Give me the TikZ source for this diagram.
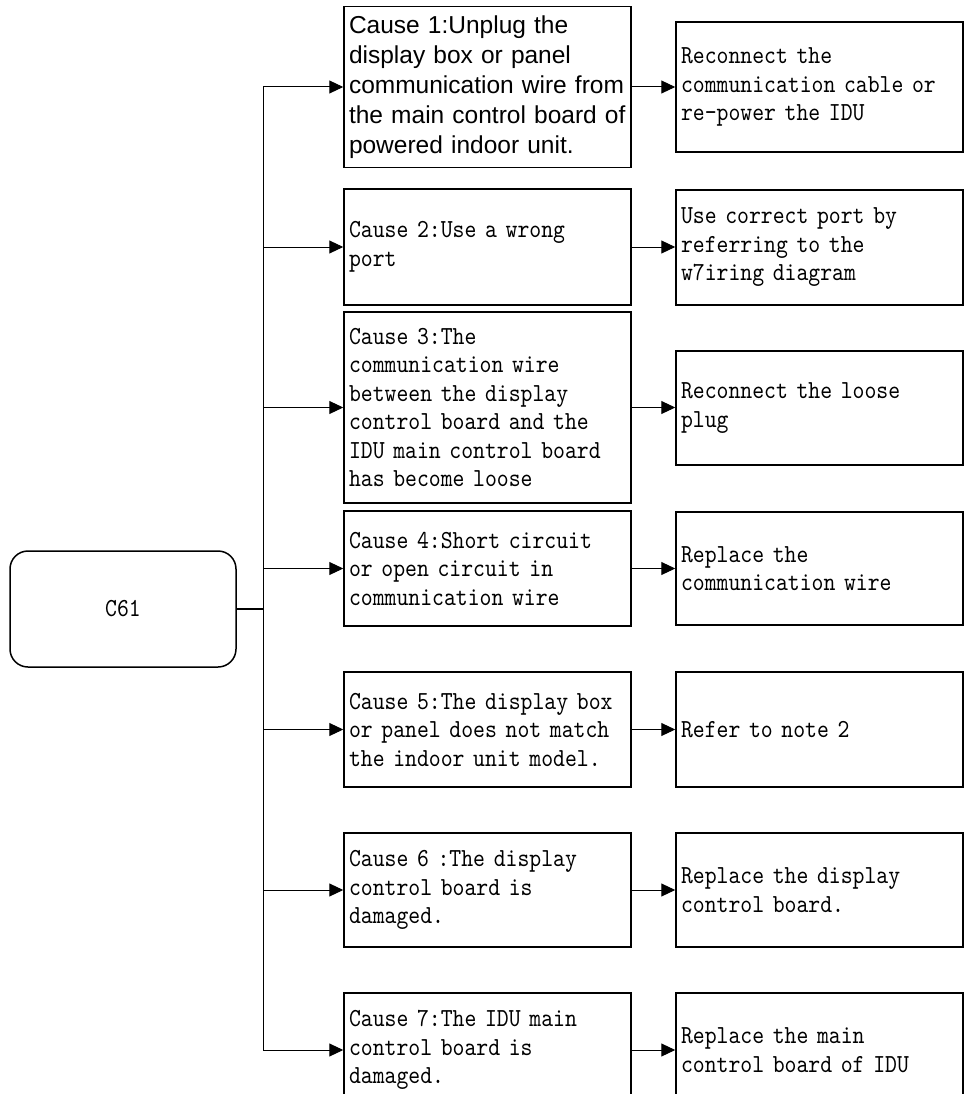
\documentclass[tikz,border=0pt]{standalone}
\usepackage{fontspec}
\setmainfont{Liberation Sans}
\newfontfamily\simface[FakeStretch=0.87]{lmmono10-regular.otf}
\usetikzlibrary{arrows.meta}
\newcommand\simfont{\simface\fontsize{26}{28.5}\selectfont}
\begin{document}
\begin{tikzpicture}[x=1pt,y=-1pt,
  box/.style={draw, line width=1.5pt, rectangle, minimum width=287pt, text width=277pt,
    inner xsep=5pt, inner ysep=0pt, align=left, font=\simfont},
  arialbox/.style={box, font=\rmfamily\fontsize{24.5}{30}\selectfont},
  conn/.style={line width=1pt, -{Triangle[length=14pt,width=13pt]}},
  plainline/.style={line width=1pt},
  thickline/.style={line width=1.6pt}]
\useasboundingbox (0,0) rectangle (964,1094);
\fill[white] (0,0) rectangle (964,1094);

\node[draw, line width=1.5pt, rounded corners=18pt, minimum width=226pt, minimum height=116pt,
  font=\simfont] (c61) at (123,609) {C61};

\node[arialbox, minimum height=161pt] (c1) at (487.5,87)
  {Cause 1:Unplug the\\display box or panel\\communication wire from\\the main control board of\\powered indoor unit.};
\node[box, minimum height=116pt] (c2) at (487.5,247) {Cause 2:Use a wrong\\port};
\node[box, minimum height=191pt] (c3) at (487.5,407.5)
  {Cause 3:The\\communication wire\\between the display\\control board and the\\IDU main control board\\has become loose};
\node[box, minimum height=115pt] (c4) at (487.5,568.5)
  {Cause 4:Short circuit\\or open circuit in\\communication wire};
\node[box, minimum height=115pt] (c5) at (487.5,729.5)
  {Cause 5:The display box\\or panel does not match\\the indoor unit model.};
\node[box, minimum height=114pt] (c6) at (487.5,890)
  {Cause 6 :The display\\control board is\\damaged.};
\node[box, minimum height=114pt] (c7) at (487.5,1050)
  {Cause 7:The IDU main\\control board is\\damaged.};

\node[box, minimum height=130pt] (r1) at (819.5,87)
  {Reconnect the\\communication cable or\\re-power the IDU};
\node[box, minimum height=115pt] (r2) at (819.5,247.5)
  {Use correct port by\\referring to the\\w7iring diagram};
\node[box, minimum height=114pt] (r3) at (819.5,408)
  {Reconnect the loose\\plug};
\node[box, minimum height=113pt] (r4) at (819.5,568.5)
  {Replace the\\communication wire};
\node[box, minimum height=115pt] (r5) at (819.5,729.5)
  {Refer to note 2};
\node[box, minimum height=114pt] (r6) at (819.5,890)
  {Replace the display\\control board.};
\node[box, minimum height=114pt] (r7) at (819.5,1050)
  {Replace the main\\control board of IDU};

\coordinate (j) at (263,609);
\draw[thickline] (c61.east) -- (j);
\draw[plainline] (j |- c1.west) -- (j |- c7.west);
\foreach \i in {1,...,7} {
  \draw[conn] (j |- c\i.west) -- (c\i.west);
  \draw[conn] (c\i.east) -- (c\i.east -| r\i.west);
}
\end{tikzpicture}
\end{document}
